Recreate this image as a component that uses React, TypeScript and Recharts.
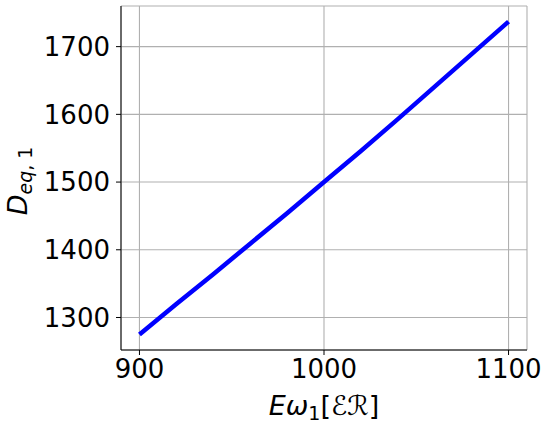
import React from "react";
import { LineChart, Line, XAxis, YAxis, CartesianGrid } from "recharts";

const energies = [900, 920, 940, 960, 980, 1000, 1020, 1040, 1060, 1080, 1100];
const deq = [1275, 1320, 1364, 1409, 1454, 1500, 1546, 1593, 1641, 1689, 1737];
const xTicks = [900, 1000, 1100];
const yTicks = [1300, 1400, 1500, 1600, 1700];

const data = energies.map((e, i) => ({ e, d: deq[i] }));

const FONT = "DejaVu Sans";

const XLabel = (props: any) => {
  const vb = props.viewBox || { x: 121, width: 406 };
  const cx = vb.x + vb.width / 2;
  return (
    <text x={cx} y={415} textAnchor="middle" fontSize={27} fontFamily={FONT} fill="#000">
      <tspan fontStyle="italic">Eω</tspan>
      <tspan fontSize={19} dy={5}>1</tspan>
      <tspan dy={-5}>[</tspan>
      <tspan fontStyle="italic">ℰℛ</tspan>
      <tspan>]</tspan>
    </text>
  );
};

const YLabel = (props: any) => {
  const vb = props.viewBox || { y: 6, height: 344 };
  const cy = vb.y + vb.height / 2 + 3;
  const bx = 27;
  return (
    <text
      x={bx}
      y={cy}
      textAnchor="middle"
      fontSize={27}
      fontFamily={FONT}
      fill="#000"
      transform={`rotate(-90, ${bx}, ${cy})`}
    >
      <tspan fontStyle="italic">D</tspan>
      <tspan fontSize={19} dy={5} fontStyle="italic">eq</tspan>
      <tspan fontSize={19}>, 1</tspan>
    </text>
  );
};

export default function App() {
  const tickStyle = { fontSize: 26, fontFamily: FONT, fill: "#000" };
  return (
    <div style={{ position: "absolute", left: 0, top: 0, width: 550, height: 424, background: "#fff" }}>
      <LineChart width={550} height={424} data={data} margin={{ top: 6, right: 23, left: 0, bottom: 0 }}>
        <CartesianGrid stroke="#b0b0b0" strokeWidth={1.1} />
        <XAxis
          dataKey="e"
          type="number"
          domain={[890, 1110]}
          ticks={xTicks}
          height={74}
          tick={tickStyle}
          tickSize={5}
          tickMargin={5}
          stroke="#000"
          tickLine={{ stroke: "#000" }}
          axisLine={{ stroke: "#000" }}
          label={{ content: XLabel }}
        />
        <XAxis
          xAxisId="top"
          orientation="top"
          dataKey="e"
          type="number"
          domain={[890, 1110]}
          height={0}
          tick={false}
          tickLine={false}
          axisLine={{ stroke: "#000" }}
        />
        <YAxis
          type="number"
          domain={[1252, 1760]}
          ticks={yTicks}
          width={121}
          tick={tickStyle}
          tickSize={5}
          tickMargin={6}
          stroke="#000"
          tickLine={{ stroke: "#000" }}
          axisLine={{ stroke: "#000" }}
          label={{ content: YLabel }}
        />
        <YAxis
          yAxisId="right"
          orientation="right"
          type="number"
          domain={[1252, 1760]}
          width={0}
          tick={false}
          tickLine={false}
          axisLine={{ stroke: "#000" }}
        />
        <Line
          type="linear"
          dataKey="d"
          stroke="#0000ff"
          strokeWidth={4.5}
          dot={false}
          isAnimationActive={false}
        />
      </LineChart>
    </div>
  );
}
